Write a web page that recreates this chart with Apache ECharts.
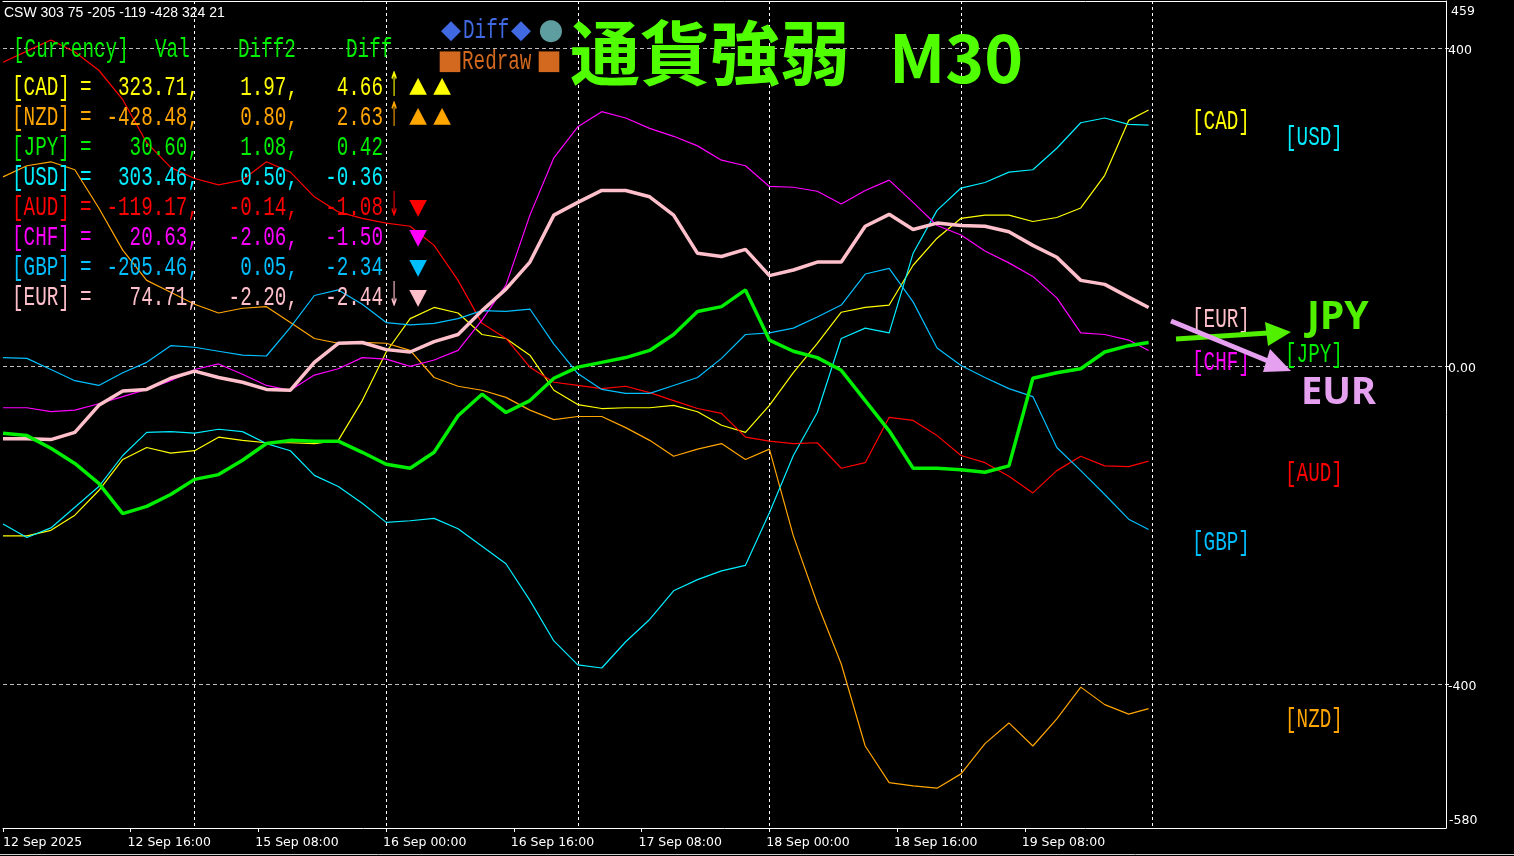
<!DOCTYPE html>
<html><head><meta charset="utf-8">
<script src="https://cdn.jsdelivr.net/npm/echarts@6/dist/echarts.min.js"></script>
<style>html,body{margin:0;padding:0;background:#000;}#c{width:1514px;height:856px;}</style>
</head><body><div id="c"></div>
<script>
// bar index (M30 bars since 12 Sep 00:00)
const bars = [0,6,12,18,24,30,36,42,48,54,60,66,72,78,84,90,96,102,108,114,120,126,132,138,144,150,156,162,168,174,180,186,192,198,204,210,216,222,228,234,240,246,252,258,264,270,276,282,287];
const xLabels = ['12 Sep 2025','12 Sep 16:00','15 Sep 08:00','16 Sep 00:00','16 Sep 16:00','17 Sep 08:00','18 Sep 00:00','18 Sep 16:00','19 Sep 08:00'];
const yLabels = [400, 0, -400];

const AUD = [382,396,410,395,372,335,281,250,236,228,234,257,244,213,194,186,180,176,152,108,54,35,-1,-20,-24,-28,-25,-33,-43,-53,-59,-89,-94,-97,-96,-128,-121,-64,-68,-87,-112,-121,-138,-159,-131,-113,-125,-126,-119];
const CHF = [-52,-52,-57,-55,-47,-38,-29,-18,-4,3,-10,-24,-30,-11,-3,11,9,0,8,20,58,102,190,262,301,320,312,299,289,277,259,252,226,225,220,204,221,234,206,177,165,145,130,113,86,42,40,33,20];
const EUR = [-91,-91,-92,-83,-49,-31,-29,-15,-6,-14,-20,-29,-30,5,29,30,21,18,31,40,70,97,131,190,206,221,221,213,190,142,138,147,114,121,131,131,176,191,172,180,177,176,169,152,137,108,103,87,74];
const JPY = [-84,-87,-103,-122,-147,-185,-176,-161,-142,-136,-118,-97,-93,-94,-94,-108,-123,-128,-108,-62,-35,-58,-43,-15,-1,5,11,20,40,69,75,96,33,19,11,-5,-43,-81,-128,-128,-130,-133,-125,-15,-8,-3,18,26,30];
const CAD = [-213,-213,-206,-187,-156,-117,-102,-109,-106,-89,-93,-96,-96,-97,-93,-43,18,60,74,67,40,35,14,-30,-48,-53,-52,-52,-49,-57,-74,-83,-49,-8,29,68,74,77,127,161,186,190,190,182,187,199,240,309,322];
const USD = [-198,-215,-203,-177,-151,-112,-83,-82,-84,-79,-82,-97,-106,-137,-151,-172,-196,-194,-191,-204,-226,-248,-294,-345,-375,-379,-346,-318,-282,-268,-257,-250,-184,-112,-58,35,48,42,142,196,224,231,244,247,274,306,312,304,303];
const GBP = [11,10,-4,-18,-24,-8,5,26,24,19,14,13,49,89,96,78,55,52,54,60,70,69,72,28,-9,-29,-34,-34,-24,-14,10,40,42,48,62,77,116,123,81,23,1,-14,-28,-38,-102,-131,-161,-192,-205];
const NZD = [238,252,257,247,199,146,108,93,78,67,73,75,55,35,29,30,29,20,-14,-25,-30,-39,-55,-67,-63,-63,-77,-93,-113,-104,-97,-117,-104,-213,-298,-374,-477,-523,-527,-530,-512,-474,-448,-477,-443,-403,-425,-437,-430];

// table texts
const currencies = ['CAD','NZD','JPY','USD','AUD','CHF','GBP','EUR'];
const vals  = ['323.71','-428.48','30.60','303.46','-119.17','20.63','-205.46','74.71'];
const diff2 = ['1.97','0.80','1.08','0.50','-0.14','-2.06','0.05','-2.20'];
const diff  = ['4.66','2.63','0.42','-0.36','-1.08','-1.50','-2.34','-2.44'];
const arrows = ['↑','↑','','','↓','','','↓'];
const marks  = ['▲▲','▲▲','','','▼','▼','▼','▼'];
const cswText = 'CSW 303 75 -205 -119 -428 324 21';

const colors = {CAD:'#ffff00', NZD:'#ffa500', JPY:'#00ee00', USD:'#00eeff', AUD:'#ff0000', CHF:'#ff00ff', GBP:'#00bfff', EUR:'#ffc0cb'};
const seriesData = {CAD, NZD, USD, AUD, CHF, GBP, EUR, JPY};
const thick = {JPY:3.5, EUR:3.5};

const MONO = '19.3px "Liberation Mono", "DejaVu Sans Mono", monospace';
const SY = 1.42;
function txt(x, y, s, fill, font, align, sy, sx) {
  return { type:'text', x:x, y:y, scaleY: sy || 1, scaleX: sx || 1, silent:true, z:100,
    style:{ text:s, fill:fill, font:font, align:align||'left', verticalAlign:'middle', textAlign:align||'left', textVerticalAlign:'middle' } };
}

const g = [];
g.push(txt(4, 13, cswText, '#ffffff', '14px "Liberation Sans", sans-serif'));
// header
const hc = '#00ee00';
g.push(txt(13, 49.5, '[Currency]', hc, MONO, 'left', SY));
g.push(txt(155, 49.5, 'Val', hc, MONO, 'left', SY));
g.push(txt(238, 49.5, 'Diff2', hc, MONO, 'left', SY));
g.push(txt(346, 49.5, 'Diff', hc, MONO, 'left', SY));
currencies.forEach((c, i) => {
  const y = 88 + 30 * i, col = colors[c];
  g.push(txt(12, y, '[' + c + ']', col, MONO, 'left', SY));
  g.push(txt(80, y, '=', col, MONO, 'left', SY));
  g.push(txt(199, y, vals[i] + ',', col, MONO, 'right', SY));
  g.push(txt(298, y, diff2[i] + ',', col, MONO, 'right', SY));
  g.push(txt(383, y, diff[i], col, MONO, 'right', SY));
  if (arrows[i]) g.push(txt(394, y - 1, arrows[i], col, '22px "DejaVu Sans"', 'center', 1.55, 0.55));
  const m = marks[i];
  for (let k = 0; k < m.length; k++) {
    g.push(txt(418 + 24 * k, y + (m[k] === '▲' ? -1.5 : 0.5), m[k], col, '23px "DejaVu Sans"', 'center', 0.95));
  }
});
// Diff / Redraw legend
g.push(txt(451, 31, '◆', '#4169e1', '26px "DejaVu Sans"', 'center'));
g.push(txt(463, 31, 'Diff', '#4169e1', MONO, 'left', SY));
g.push(txt(521, 31, '◆', '#4169e1', '26px "DejaVu Sans"', 'center'));
g.push(txt(551, 31, '●', '#5f9ea0', '29px "DejaVu Sans"', 'center'));
g.push(txt(450, 62, '■', '#d2691e', '27px "DejaVu Sans"', 'center'));
g.push(txt(462, 62, 'Redraw', '#d2691e', MONO, 'left', SY));
g.push(txt(549, 62, '■', '#d2691e', '27px "DejaVu Sans"', 'center'));
// title
g.push(txt(570, 53, '通貨強弱', '#50ff00', 'bold 70px "Noto Sans CJK JP"', 'left'));
g.push(txt(889, 58, 'M30', '#50ff00', 'bold 66px "Noto Sans CJK JP"', 'left'));
// right side labels
const rightLabels = [['CAD',1192,122],['USD',1285,138],['EUR',1192,320],['CHF',1192,363],['JPY',1285,355],['AUD',1285,474],['GBP',1192,543],['NZD',1285,720]];
rightLabels.forEach(r => g.push(txt(r[1], r[2], '[' + r[0] + ']', colors[r[0]], MONO, 'left', SY)));
// arrows
const gArrow = '#50f000', pArrow = '#e6a0f0';
g.push({type:'polyline', silent:true, z:101, shape:{points:[[1176,339],[1268,333]]}, style:{stroke:gArrow, lineWidth:5}});
g.push({type:'polygon', silent:true, z:101, shape:{points:[[1265,322],[1291,332],[1268,346]]}, style:{fill:gArrow}});
g.push({type:'polyline', silent:true, z:102, shape:{points:[[1171,321],[1268,361]]}, style:{stroke:pArrow, lineWidth:5}});
g.push({type:'polygon', silent:true, z:102, shape:{points:[[1270,349],[1291,371],[1263,372]]}, style:{fill:pArrow}});
g.push(txt(1307, 318, 'JPY', gArrow, 'bold 39px "Noto Sans", sans-serif', 'left'));
g.push(txt(1301, 393, 'EUR', pArrow, 'bold 38px "Noto Sans", sans-serif', 'left'));
// extreme axis labels
g.push(txt(1451, 12, '459', '#ffffff', '12.5px "DejaVu Sans"', 'left'));
g.push(txt(1449, 821, '-580', '#ffffff', '12.5px "DejaVu Sans"', 'left'));
g.push({type:'line', silent:true, shape:{x1:0, y1:854.5, x2:1514, y2:854.5}, style:{stroke:'#cfcfcf', lineWidth:1}});

const series = Object.keys(seriesData).map(k => ({
  name: k, type: 'line', symbol: 'none', smooth: false, animation: false,
  lineStyle: { color: colors[k], width: thick[k] || 1.2 },
  z: thick[k] ? 5 : 3,
  data: bars.map((b, i) => [b, seriesData[k][i]])
}));

const tickPos = xLabels.map((_, i) => i * 32);
const labelPos = xLabels.map((_, i) => i === 0 ? 0 : i * 32 - 0.8);

const chart = echarts.init(document.getElementById('c'), null, {renderer:'canvas'});
chart.setOption({
  backgroundColor: '#000',
  animation: false,
  grid: { left: 0, right: 68, top: 1, bottom: 28 },
  xAxis: [
    { type:'value', min:0, max:361.5, position:'bottom',
      axisLine:{show:true, onZero:false, lineStyle:{color:'#ffffff', width:1}},
      axisTick:{show:true, customValues: tickPos, length:4, lineStyle:{color:'#ffffff'}},
      axisLabel:{customValues: labelPos, formatter: v => xLabels[Math.round(v / 32)] || '', color:'#ffffff', fontSize:12.5, fontFamily:'DejaVu Sans', align:'left', margin:8},
      splitLine:{show:false} },
    { type:'value', min:0, max:361.5, position:'top',
      axisLine:{show:true, onZero:false, lineStyle:{color:'#ffffff', width:1}},
      axisTick:{show:false, customValues:[48,96,144,192,240,288]},
      axisLabel:{show:false},
      splitLine:{show:true, lineStyle:{color:'#ffffff', width:1, type:[3,3]}} }
  ],
  yAxis: { type:'value', position:'right', min:-580, max:459,
    axisLine:{show:true, onZero:false, lineStyle:{color:'#ffffff', width:1}},
    axisTick:{show:true, customValues: yLabels, length:3, lineStyle:{color:'#ffffff'}},
    axisLabel:{customValues: yLabels, formatter: v => v === 0 ? '0.00' : String(v), color:'#ffffff', fontSize:12.5, fontFamily:'DejaVu Sans', margin:2, verticalAlign:'top', lineHeight:5},
    splitLine:{show:true, lineStyle:{color:'#bdbdbd', width:1, type:[4,3]}} },
  series: series,
  graphic: { elements: g }
});
</script>
</body></html>
